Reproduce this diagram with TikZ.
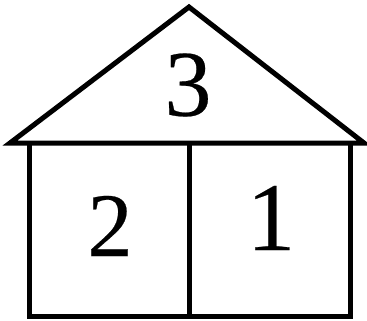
\documentclass[tikz,border=0pt]{standalone}
\usepackage{fontspec}
\setmainfont{Liberation Serif}
\newfontfamily\digitfont{Liberation Serif}[FakeBold=0.25]
\begin{document}
\begin{tikzpicture}[x=1pt,y=-1pt,
  wall/.style={line width=5pt},
  digit/.style={inner sep=0pt,anchor=center,font=\digitfont}]
\useasboundingbox (0,0) rectangle (367,321);
\coordinate (apex) at (189,7);
\coordinate (rl) at (10,143);
\coordinate (rr) at (364,143);
\coordinate (bl) at (29.5,143);
\coordinate (br) at (350,143);
\coordinate (fl) at (29.5,316);
\coordinate (fr) at (350,316);
\coordinate (mt) at (189.5,143);
\coordinate (mb) at (189.5,316);
\draw[wall,line join=miter] (rl) -- (apex) -- (rr) -- cycle;
\draw[wall,line join=miter] (bl) -- (fl) -- (fr) -- (br);
\draw[wall] (mt) -- (mb);
\node[digit] (n3) at (188,85) {\fontsize{94}{94}\selectfont 3};
\node[digit] (n2) at (110,226) {\fontsize{91}{91}\selectfont 2};
\node[digit] (n1) at (271,218) {\fontsize{97}{97}\selectfont 1};
\end{tikzpicture}
\end{document}
